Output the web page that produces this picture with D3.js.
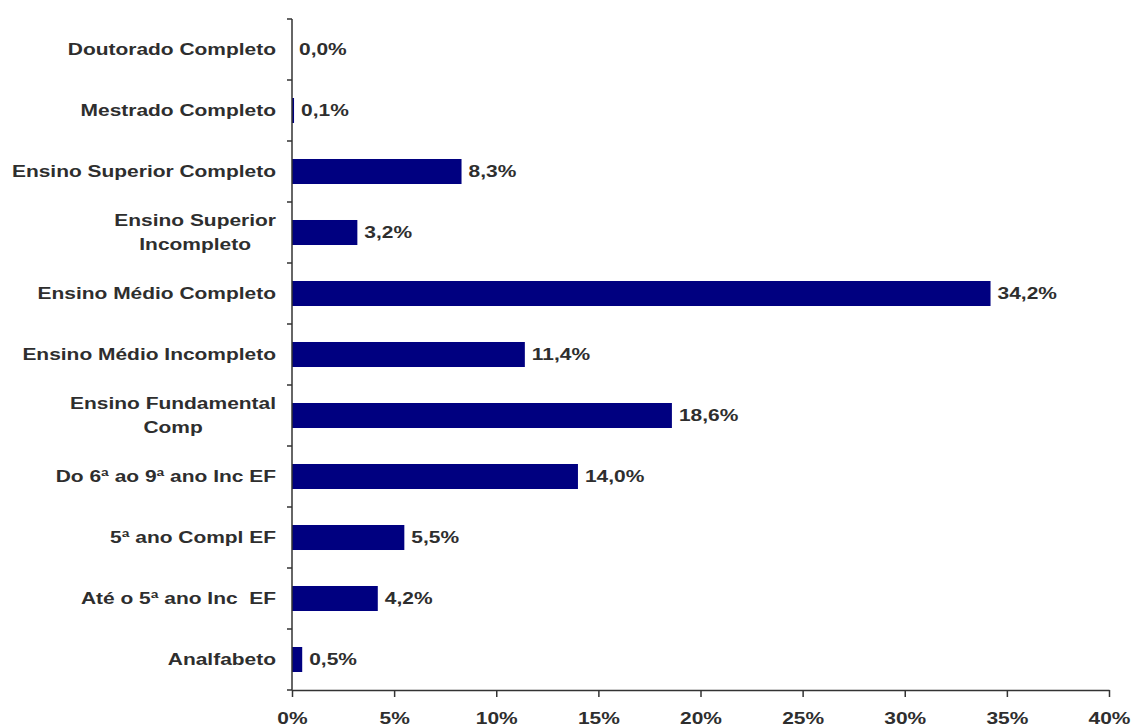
<!DOCTYPE html>
<html>
<head>
<meta charset="utf-8">
<script src="https://cdn.jsdelivr.net/npm/d3@7"></script>
<style>
  body { margin: 0; background: #fff; }
  svg { display: block; }
  text { font-family: "Liberation Sans", Arial, sans-serif; font-weight: 700; }
</style>
</head>
<body>
<div id="root"></div>
<script>
// escolaridade (%)
const categorias = [
    "Doutorado Completo",
    "Mestrado Completo",
    "Ensino Superior Completo",
    "Ensino Superior\nIncompleto",
    "Ensino Médio Completo",
    "Ensino Médio Incompleto",
    "Ensino Fundamental\nComp",
    "Do 6ª ao 9ª ano Inc EF",
    "5ª ano Compl EF",
    "Até o 5ª ano Inc  EF",
    "Analfabeto"
]
const valores = [0.0, 0.1, 8.3, 3.2, 34.2, 11.4, 18.6, 14.0, 5.5, 4.2, 0.5]
const ticksX = [0, 5, 10, 15, 20, 25, 30, 35, 40]

const width = 1134
const height = 726
const margin = { top: 19, right: 25, bottom: 36, left: 292 }
const stretch = 1.27 // o texto no original aparece esticado na horizontal
const fontSize = 16.5
const corTexto = "#2e2e2e"
const corBarra = "#000080"
const corEixo = "#333"

const data = categorias.map((c, i) => ({ cat: c, val: valores[i] }))

const svg = d3.select("#root")
    .append("svg")
    .attr("width", width)
    .attr("height", height)

const x = d3.scaleLinear()
    .domain([0, 40])
    .range([margin.left, width - margin.right])

const y = d3.scaleBand()
    .domain(categorias)
    .range([margin.top, height - margin.bottom])
    .paddingInner(0.59)
    .paddingOuter(0.295)

// barras
svg.append("g")
    .selectAll("rect")
    .data(data)
    .enter()
    .append("rect")
    .attr("x", x(0))
    .attr("y", d => y(d.cat))
    .attr("width", d => x(d.val) - x(0))
    .attr("height", y.bandwidth())
    .attr("fill", corBarra)

// rótulos de valor
svg.append("g")
    .selectAll("text")
    .data(data)
    .enter()
    .append("text")
    .attr("transform", d => `translate(${x(d.val) + 7} ${y(d.cat) + y.bandwidth() / 2}) scale(${stretch} 1)`)
    .attr("dominant-baseline", "central")
    .attr("font-size", fontSize)
    .attr("fill", corTexto)
    .text(d => d.val.toFixed(1).replace(".", ",") + "%")

// eixo x
const eixoX = svg.append("g")
    .attr("transform", `translate(0 ${height - margin.bottom})`)
    .call(d3.axisBottom(x)
        .tickValues(ticksX)
        .tickFormat(d => d + "%")
        .tickSizeInner(7)
        .tickSizeOuter(0)
        .tickPadding(15))

eixoX.select(".domain").attr("stroke", corEixo).attr("stroke-width", 1.5)
eixoX.selectAll(".tick line").attr("stroke", corEixo).attr("stroke-width", 1.5)
eixoX.selectAll(".tick text")
    .attr("font-size", fontSize)
    .attr("font-family", null)
    .attr("fill", corTexto)
    .attr("transform", `scale(${stretch} 1)`)

// eixo y (linha e marcas entre categorias)
const eixoY = svg.append("g")
const gap = (y.step() - y.bandwidth()) / 2
const limites = categorias.map(c => y(c) - gap)
limites.push(height - margin.bottom)

eixoY.append("line")
    .attr("x1", x(0)).attr("x2", x(0))
    .attr("y1", margin.top).attr("y2", height - margin.bottom)
    .attr("stroke", corEixo)
    .attr("stroke-width", 1.5)

eixoY.selectAll(".marca")
    .data(limites)
    .enter()
    .append("line")
    .attr("class", "marca")
    .attr("x1", x(0) - 5).attr("x2", x(0))
    .attr("y1", d => d).attr("y2", d => d)
    .attr("stroke", corEixo)
    .attr("stroke-width", 1.5)

// rótulos das categorias
const rotulos = svg.append("g")
    .selectAll("g")
    .data(data)
    .enter()
    .append("g")
    .attr("transform", d => `translate(${x(0) - 16} ${y(d.cat) + y.bandwidth() / 2}) scale(${stretch} 1)`)

rotulos.each(function (d) {
    const linhas = d.cat.split("\n")
    const lh = 23.5
    const t = d3.select(this)
        .append("text")
        .attr("font-size", fontSize)
        .attr("fill", corTexto)
        .attr("text-anchor", "middle")
        .style("white-space", "pre")
    const spans = linhas.map((l, i) => t.append("tspan")
        .attr("y", (i - (linhas.length - 1) / 2) * lh)
        .attr("dominant-baseline", "central")
        .text(l))
    const maxW = d3.max(spans, s => s.node().getComputedTextLength())
    spans.forEach(s => s.attr("x", -maxW / 2))
})
</script>
</body>
</html>
